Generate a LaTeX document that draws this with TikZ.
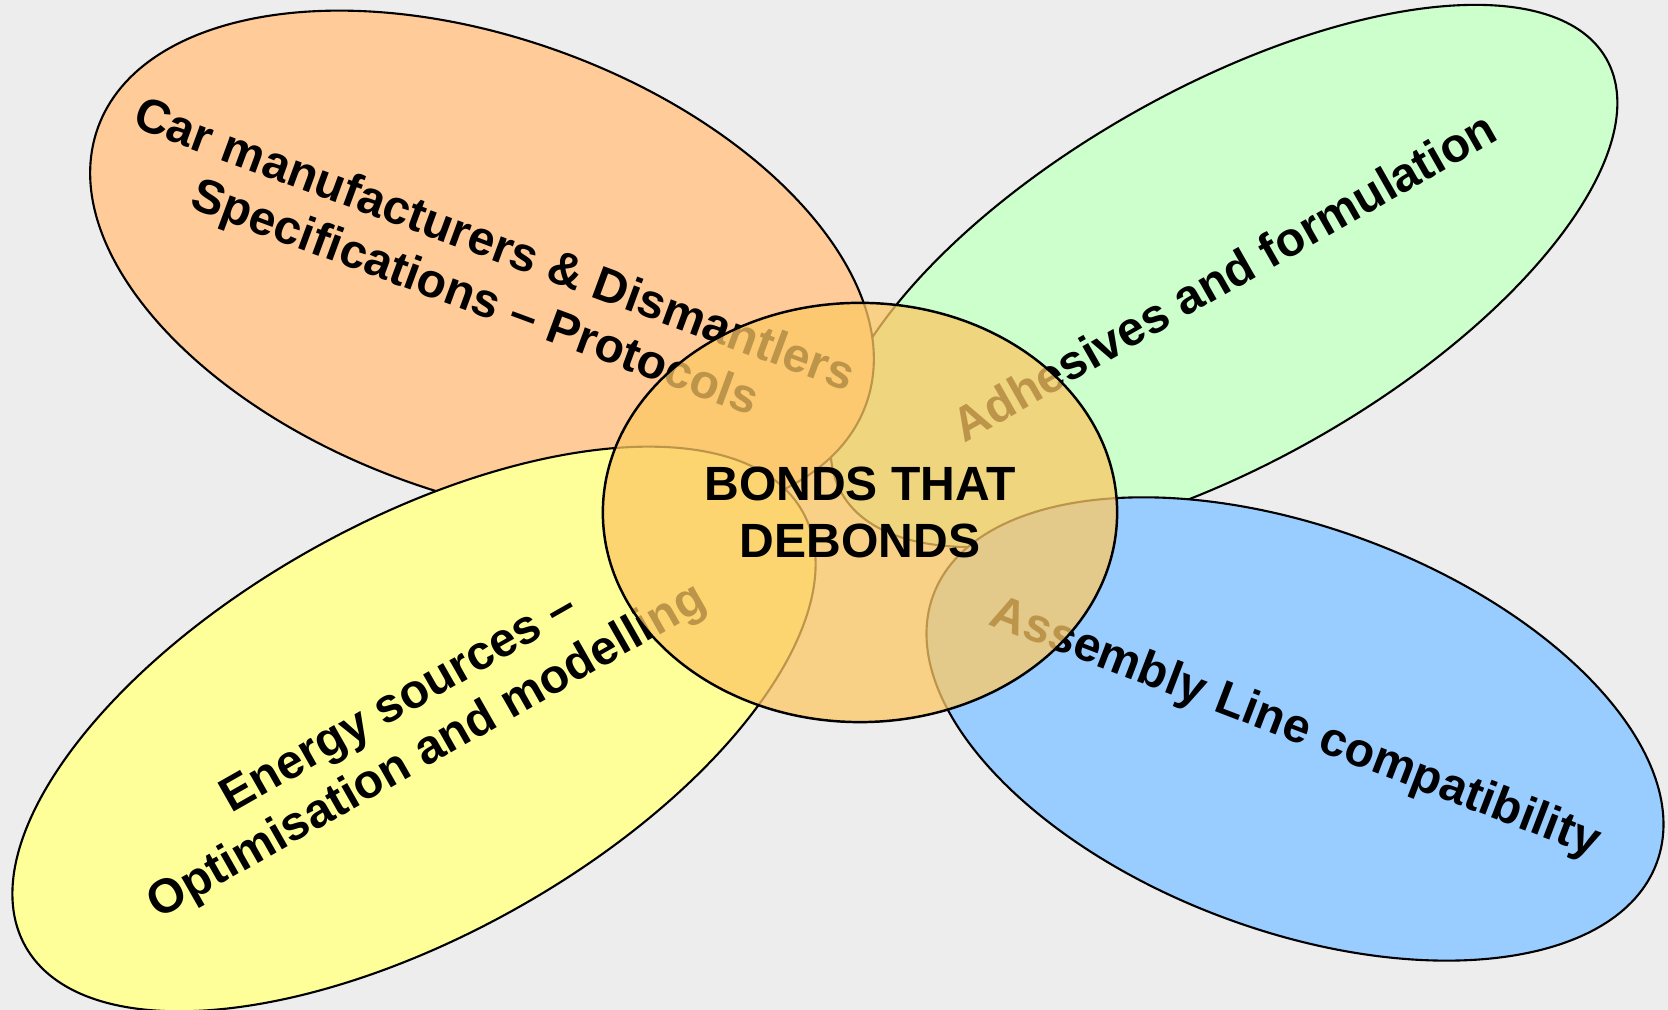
\documentclass[tikz,border=0pt]{standalone}
\usepackage{fontspec}
\setmainfont{Liberation Sans}
\usetikzlibrary{shapes.geometric}

\definecolor{bgGray}{HTML}{EDEDED}
\definecolor{carFill}{HTML}{FFCC99}
\definecolor{glueFill}{HTML}{CCFFCC}
\definecolor{energyFill}{HTML}{FFFF99}
\definecolor{lineFill}{HTML}{99CCFF}
\definecolor{bondFill}{HTML}{FCC864}

\begin{document}
\begin{tikzpicture}[x=0.01cm,y=0.01cm,line cap=round,
    petal/.style={ellipse,draw=black,line width=0.6pt,inner sep=0},
    petal text/.style={font=\bfseries\fontsize{13.66pt}{16pt}\selectfont,align=center,inner sep=0}]
    \useasboundingbox (0,0) rectangle (1668,1010);
    \fill[bgGray] (0,0) rectangle (1668,1010);
    % the four petals
    \node[petal,fill=glueFill,minimum width=8.79cm,minimum height=3.73cm,rotate=29.6] (glue) at (1224,734) {};
    \node[petal text,rotate=29.6] (glue text) at (glue.center) {Adhesives and formulation};
    \node[petal,fill=carFill,minimum width=8.16cm,minimum height=4.56cm,rotate=-19.8] (car) at (482,744) {};
    \node[petal text,rotate=-20.3] (car text) at (484,736) {Car manufacturers \& Dismantlers\\Specifications -- Protocols};
    \node[petal,fill=energyFill,minimum width=8.90cm,minimum height=4.13cm,rotate=29.2] (energy) at (414,281) {};
    \node[petal text,rotate=29.6] (energy text) at (energy.center) {Energy sources --\\Optimisation and modelling};
    \node[petal,fill=lineFill,minimum width=7.71cm,minimum height=4.03cm,rotate=-20.3] (assembly) at (1295,281) {};
    \node[petal text,rotate=-21] (assembly text) at (assembly.center) {Assembly Line compatibility};
    % the centre
    \node[petal,petal text,line width=0.7pt,fill=bondFill,fill opacity=0.75,text opacity=1,
        minimum width=5.14cm,minimum height=4.19cm] (bonds) at (860,497.5) {BONDS THAT\\DEBONDS};
\end{tikzpicture}
\end{document}
